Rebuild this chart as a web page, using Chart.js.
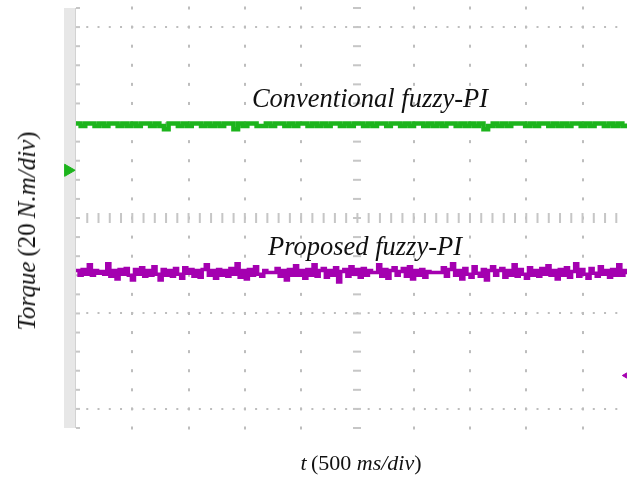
<!DOCTYPE html>
<html>
<head>
<meta charset="utf-8">
<script src="https://cdn.jsdelivr.net/npm/chart.js@4.4.0/dist/chart.umd.min.js"></script>
<style>
  html, body { margin: 0; padding: 0; background: #fff; overflow: hidden; }
  #wrap { position: relative; width: 627px; height: 482px; }
  canvas { position: absolute; left: 0; top: 0; }
  .lbl { position: absolute; font-family: "Liberation Serif", "DejaVu Serif", serif; color: #111;
         white-space: nowrap; transform: translate(-50%, -50%); }
  .lbl i { font-style: italic; }
</style>
</head>
<body>
<div id="wrap">
  <canvas id="scope" width="627" height="482"></canvas>
  <div class="lbl" style="left:370px; top:98px; font-size:26.5px;"><i>Conventional fuzzy-PI</i></div>
  <div class="lbl" style="left:365px; top:246px; font-size:26.5px;"><i>Proposed fuzzy-PI</i></div>
  <div class="lbl" style="left:361px; top:463px; font-size:22px;"><i>t</i>&thinsp;(500 <i>ms/div</i>)</div>
  <div class="lbl" style="left:27px; top:231px; font-size:25px; transform: translate(-50%, -50%) rotate(-90deg);"><i>Torque</i>&thinsp;(20&thinsp;<i>N.m/div</i>)</div>
</div>

<script>
// screen values in divisions (20 N.m/div vertically, 500 ms/div horizontally)
const xMax = 9.79;
const yMin = -2.2;
const yMax = 2.2;

// conventional fuzzy-PI trace (green)
const greenVals = [
  0.99, 0.965, 0.99, 0.99, 0.965, 0.99, 0.965, 0.99, 0.99, 0.965,
  0.99, 0.965, 0.99, 0.965, 0.99, 0.99, 0.965, 0.99, 0.965, 0.93,
  0.99, 0.99, 0.965, 0.99, 0.965, 0.99, 0.99, 0.965, 0.99, 0.965,
  0.99, 0.965, 0.99, 0.99, 0.93, 0.99, 0.965, 0.99, 0.99, 0.965,
  0.965, 0.99, 0.965, 0.99, 0.99, 0.965, 0.99, 0.965, 0.99, 0.99,
  0.965, 0.99, 0.965, 0.99, 0.965, 0.99, 0.99, 0.965, 0.99, 0.965,
  0.99, 0.99, 0.965, 0.99, 0.965, 0.99, 0.99, 0.965, 0.99, 0.99,
  0.965, 0.99, 0.965, 0.99, 0.99, 0.965, 0.99, 0.965, 0.99, 0.965,
  0.99, 0.99, 0.965, 0.99, 0.965, 0.99, 0.965, 0.99, 0.93, 0.965,
  0.99, 0.965, 0.99, 0.965, 0.99, 0.99, 0.99, 0.965, 0.99, 0.965,
  0.99, 0.99, 0.965, 0.99, 0.965, 0.99, 0.965, 0.99, 0.99, 0.965,
  0.99, 0.965, 0.99, 0.99, 0.965, 0.99, 0.965, 0.99, 0.965, 0.99
];

// proposed fuzzy-PI trace (magenta)
const magentaVals = [
  -0.55, -0.60, -0.54, -0.59, -0.49, -0.60, -0.55, -0.58, -0.56, -0.59, -0.48, -0.61, -0.55, -0.64, -0.54,
  -0.59, -0.53, -0.60, -0.65, -0.54, -0.59, -0.52, -0.61, -0.55, -0.60, -0.51, -0.59, -0.65, -0.54, -0.60,
  -0.55, -0.61, -0.53, -0.59, -0.63, -0.52, -0.58, -0.54, -0.61, -0.55, -0.62, -0.54, -0.49, -0.60, -0.55,
  -0.63, -0.54, -0.60, -0.55, -0.61, -0.53, -0.59, -0.48, -0.62, -0.55, -0.64, -0.54, -0.60, -0.51, -0.59,
  -0.61, -0.55, -0.57, -0.57, -0.57, -0.53, -0.61, -0.55, -0.65, -0.54, -0.60, -0.50, -0.60, -0.55, -0.63,
  -0.54, -0.60, -0.49, -0.61, -0.55, -0.53, -0.62, -0.55, -0.60, -0.52, -0.67, -0.56, -0.54, -0.61, -0.51,
  -0.59, -0.54, -0.62, -0.53, -0.60, -0.55, -0.57, -0.57, -0.49, -0.61, -0.54, -0.63, -0.55, -0.52, -0.60,
  -0.56, -0.53, -0.61, -0.51, -0.64, -0.55, -0.60, -0.54, -0.62, -0.56, -0.57, -0.57, -0.57, -0.57, -0.52,
  -0.61, -0.54, -0.48, -0.60, -0.55, -0.64, -0.53, -0.59, -0.62, -0.51, -0.58, -0.61, -0.54, -0.65, -0.55,
  -0.51, -0.60, -0.55, -0.53, -0.62, -0.55, -0.60, -0.49, -0.61, -0.54, -0.59, -0.63, -0.52, -0.60, -0.55,
  -0.61, -0.53, -0.59, -0.50, -0.60, -0.55, -0.64, -0.54, -0.60, -0.52, -0.62, -0.56, -0.48, -0.61, -0.54,
  -0.59, -0.63, -0.53, -0.58, -0.61, -0.51, -0.59, -0.55, -0.62, -0.54, -0.60, -0.49, -0.60, -0.55, -0.59
];

// channel ground markers on the left, trigger marker on the right
const refX = -0.14;
const greenRef = 0.5;
const magentaRef = -1.05;
const trigX = 9.76;
const trigLevel = -1.65;

const GREEN = '#1cb41c';
const MAGENTA = '#a400b0';

function toPoints(vals) {
  const dt = xMax / (vals.length - 1);
  return vals.map((v, i) => ({ x: i * dt, y: v }));
}

// oscilloscope graticule: dotted lines, tick marks on centre lines, grey strip on the left
const scopeGrid = {
  id: 'scopeGrid',
  beforeDatasetsDraw(chart) {
    const { ctx, chartArea: a, scales: { x, y } } = chart;
    ctx.save();
    ctx.fillStyle = '#e7e7e7';
    ctx.fillRect(a.left - 12, a.top, 12, a.bottom - a.top);
    ctx.fillStyle = '#d2d2d2';
    ctx.fillRect(a.left - 1, a.top, 1, a.bottom - a.top);

    ctx.fillStyle = '#bdbdbd';
    // vertical division lines as dots
    for (let d = 1; d <= 9; d++) {
      if (d === 5) continue;
      const px = Math.round(x.getPixelForValue(d));
      for (let k = -11; k <= 11; k++) {
        const py = y.getPixelForValue(k * 0.2);
        ctx.fillRect(px - 1, py - 1.5, 2, 3);
      }
    }
    // horizontal division lines as dots
    for (const d of [-2, -1, 1, 2]) {
      const py = Math.round(y.getPixelForValue(d));
      for (let k = 1; k <= 48; k++) {
        const px = x.getPixelForValue(k * 0.2);
        ctx.fillRect(px - 1, py - 1, 2, 2);
      }
    }
    // centre horizontal line: tall ticks
    ctx.fillStyle = '#c6c6c6';
    const py0 = Math.round(y.getPixelForValue(0));
    for (let k = 1; k <= 48; k++) {
      const px = x.getPixelForValue(k * 0.2);
      ctx.fillRect(px - 1, py0 - 5, 2, 10);
    }
    // centre vertical line: wide ticks
    const px5 = Math.round(x.getPixelForValue(5));
    for (let k = -11; k <= 11; k++) {
      const py = y.getPixelForValue(k * 0.2);
      ctx.fillRect(px5 - 4, py - 1, 8, 2);
    }
    // left edge ticks
    for (let k = -11; k <= 11; k++) {
      const py = y.getPixelForValue(k * 0.2);
      ctx.fillRect(a.left, py - 1, 4, 2);
    }
    ctx.restore();
  }
};

new Chart(document.getElementById('scope'), {
  type: 'line',
  data: {
    datasets: [
      {
        label: 'Conventional fuzzy-PI',
        data: toPoints(greenVals),
        borderColor: GREEN,
        borderWidth: 4.5,
        stepped: true,
        pointRadius: 0,
      },
      {
        label: 'Proposed fuzzy-PI',
        data: toPoints(magentaVals),
        borderColor: MAGENTA,
        borderWidth: 3.5,
        stepped: true,
        pointRadius: 0,
      },
      {
        label: 'green ref',
        data: [{ x: refX, y: greenRef }],
        showLine: false,
        pointStyle: 'triangle',
        rotation: 90,
        pointRadius: 7,
        backgroundColor: GREEN,
        borderColor: GREEN,
        clip: false,
      },
      {
        label: 'magenta ref',
        data: [{ x: refX, y: magentaRef }],
        showLine: false,
        pointStyle: 'rectRot',
        pointRadius: 5,
        backgroundColor: MAGENTA,
        borderColor: MAGENTA,
        clip: false,
      },
      {
        label: 'trigger',
        data: [{ x: trigX, y: trigLevel }],
        showLine: false,
        pointStyle: 'triangle',
        rotation: -90,
        pointRadius: 3,
        backgroundColor: MAGENTA,
        borderColor: MAGENTA,
        clip: false,
      },
    ],
  },
  options: {
    responsive: false,
    animation: false,
    layout: { autoPadding: false, padding: { left: 76, top: 8, right: 0, bottom: 54 } },
    plugins: { legend: { display: false }, tooltip: { enabled: false } },
    scales: {
      x: { type: 'linear', min: 0, max: xMax, display: false },
      y: { type: 'linear', min: yMin, max: yMax, display: false },
    },
  },
  plugins: [scopeGrid],
});
</script>
</body>
</html>
